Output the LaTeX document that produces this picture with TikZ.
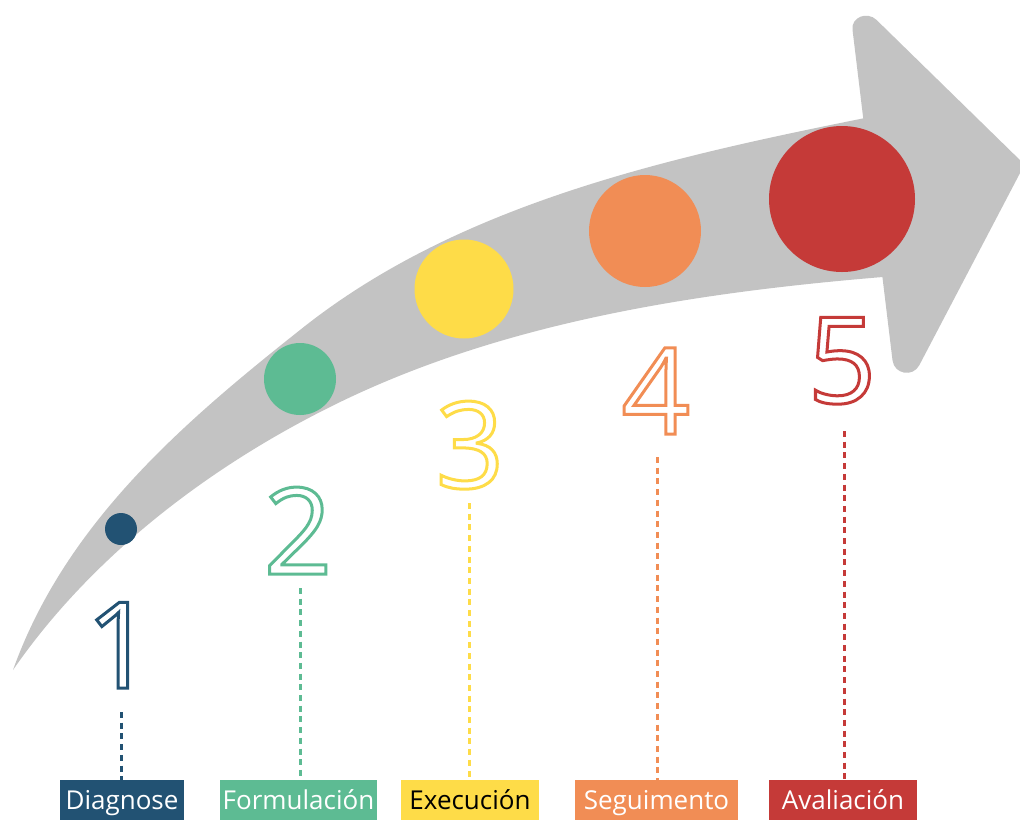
\documentclass[tikz,border=0pt]{standalone}
\usepackage{fontspec}
\setmainfont{Open Sans}
\definecolor{cblue}{HTML}{225273}
\definecolor{cgreen}{HTML}{5DBB93}
\definecolor{cyellow}{HTML}{FEDC48}
\definecolor{corange}{HTML}{F18D55}
\definecolor{cred}{HTML}{C53A38}
\definecolor{arrowgray}{HTML}{C3C3C3}
\newcommand{\outlinedigit}[1]{\special{pdf:literal direct q 1 Tr 3 w}#1\special{pdf:literal direct Q}}
\tikzset{
  dot/.style={circle, inner sep=0pt, draw=none},
  digit/.style={inner sep=0pt, anchor=base, font=\fontsize{120}{120}\selectfont},
  labelbox/.style={inner sep=0pt, minimum height=40pt, text height=18pt, text depth=0pt, text=white, font=\fontsize{26}{26}\selectfont},
  guide/.style={line width=3pt, dash pattern=on 6pt off 4.7pt}
}
\begin{document}
\begin{tikzpicture}[x=1pt,y=-1pt]
\useasboundingbox (0,0) rectangle (1020,820);
\clip (0,0) rectangle (1020,820);
% arrow body
\fill[arrowgray] (13,670) .. controls (91,557) and (207.5,468) .. (330,407)
  .. controls (502.5,320.7) and (702.6,291.4) .. (895,276)
  -- (880,115) .. controls (678,155.4) and (461,201) .. (300,330)
  .. controls (180,425) and (65,525) .. (13,670) -- cycle;
% arrow head
\fill[arrowgray] (852.5,29.7) .. controls (851.0,17.3) and (867.2,10.8) .. (876.6,20)
  -- (1024.5,164.5) -- (919.3,365.2) .. controls (912.8,377.5) and (894.2,374.3) .. (892.5,360.3) -- cycle;
% circles
\node[dot, fill=cblue, minimum size=32pt] (c1) at (121,529) {};
\node[dot, fill=cgreen, minimum size=72pt] (c2) at (300,379) {};
\node[dot, fill=cyellow, minimum size=99pt] (c3) at (464,289) {};
\node[dot, fill=corange, minimum size=112pt] (c4) at (645,231) {};
\node[dot, fill=cred, minimum size=146pt] (c5) at (842,199) {};
% digits
\node[digit, text=cblue] (n1) at (120,688) {\outlinedigit{1}};
\node[digit, text=cgreen] (n2) at (298,574) {\outlinedigit{2}};
\node[digit, text=cyellow] (n3) at (470,488) {\outlinedigit{3}};
\node[digit, text=corange] (n4) at (656,434) {\outlinedigit{4}};
\node[digit, text=cred] (n5) at (842,403) {\outlinedigit{5}};
% labels
\node[labelbox, fill=cblue, minimum width=124pt] (l1) at (122,800) {Diagnose};
\node[labelbox, fill=cgreen, minimum width=157pt] (l2) at (298.5,800) {Formulación};
\node[labelbox, fill=cyellow, minimum width=138pt, text=black] (l3) at (470,800) {Execución};
\node[labelbox, fill=corange, minimum width=163pt] (l4) at (656.5,800) {Seguimento};
\node[labelbox, fill=cred, minimum width=148pt] (l5) at (843,800) {Avaliación};
% guides
\coordinate (t1) at (121,712);
\coordinate (t2) at (300,588);
\coordinate (t3) at (469,503);
\coordinate (t4) at (657,457);
\coordinate (t5) at (844,431);
\draw[guide, cblue] (t1) -- (t1 |- l1.north);
\draw[guide, cgreen] (t2) -- (t2 |- l2.north);
\draw[guide, cyellow] (t3) -- (t3 |- l3.north);
\draw[guide, corange] (t4) -- (t4 |- l4.north);
\draw[guide, cred] (t5) -- (t5 |- l5.north);
\end{tikzpicture}
\end{document}
